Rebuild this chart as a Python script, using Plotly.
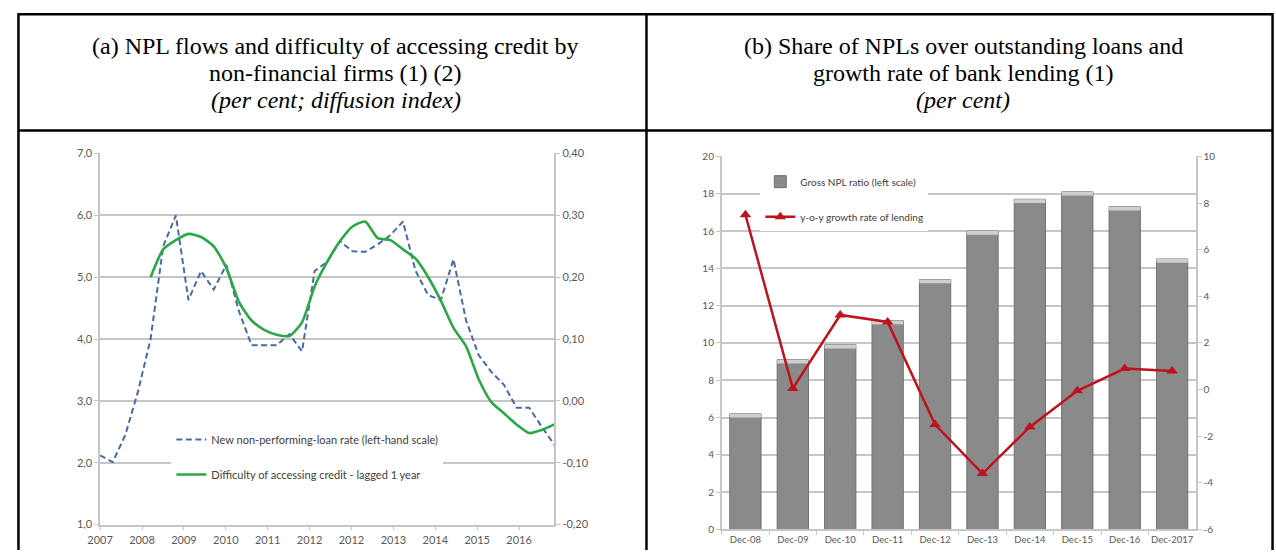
import plotly.graph_objects as go

# ---------------- Data: panel (a) ----------------
A_X_LABELS = ["2007", "2008", "2009", "2010", "2011", "2012", "2012", "2013", "2014", "2015", "2016"]
A_NPL_RATE = [2.12, 2.01, 2.45, 3.15, 4.0, 5.5, 6.0, 4.63, 5.1, 4.8, 5.2, 4.45, 3.9, 3.9, 3.9,
              4.08, 3.8, 5.1, 5.25, 5.58, 5.42, 5.41, 5.53, 5.68, 5.9, 5.1, 4.71, 4.63, 5.29,
              4.3, 3.74, 3.47, 3.26, 2.89, 2.89, 2.58, 2.29]
A_CREDIT_DIFF = [None, None, None, None,
                 0.20, 0.245, 0.26, 0.27, 0.265, 0.25, 0.215, 0.16, 0.13, 0.115, 0.107,
                 0.105, 0.127, 0.185, 0.225, 0.258, 0.282, 0.29, 0.263, 0.26, 0.245, 0.23,
                 0.20, 0.162, 0.118, 0.088, 0.035, -0.002, -0.02, -0.038, -0.052, -0.047, -0.038]
A_LEFT_VALS = [1, 2, 3, 4, 5, 6, 7]
A_LEFT_TEXT = ["1,0", "2,0", "3,0", "4,0", "5,0", "6,0", "7,0"]
A_RIGHT_VALS = [-0.2, -0.1, 0.0, 0.1, 0.2, 0.3, 0.4]
A_RIGHT_TEXT = ["-0,20", "-0,10", "0,00", "0,10", "0,20", "0,30", "0,40"]

# ---------------- Data: panel (b) ----------------
B_CATEGORIES = ["Dec-08", "Dec-09", "Dec-10", "Dec-11", "Dec-12", "Dec-13",
                "Dec-14", "Dec-15", "Dec-16", "Dec-2017"]
B_NPL_RATIO = [6.2, 9.1, 9.9, 11.2, 13.4, 16.0, 17.7, 18.1, 17.3, 14.5]
B_LENDING_GROWTH = [7.5, 0.05, 3.2, 2.9, -1.5, -3.6, -1.6, -0.05, 0.9, 0.8]
B_LEFT_VALS = [0, 2, 4, 6, 8, 10, 12, 14, 16, 18, 20]
B_RIGHT_VALS = [-6, -4, -2, 0, 2, 4, 6, 8, 10]
B_RIGHT_TEXT = ["-6", "-4", "-2", "0", "2", "4", "6", "8", "10"]

W, H = 1276, 556
def px(x):
    return x / W
def py(y):
    return 1 - y / H

GRID = "#c6c6c6"
TICKC = "#595959"
CHART_FONT = "Lato, Open Sans, sans-serif"
TITLE_FONT = "Liberation Serif, Times New Roman, serif"
A_TICK_STEP = 3.32

fig = go.Figure()

# panel (a)
fig.add_trace(go.Scatter(
    x=list(range(len(A_NPL_RATE))), y=A_NPL_RATE, mode="lines",
    name="New non-performing-loan rate (left-hand scale)",
    line=dict(color="#4a6aa6", width=2, dash="6px,3.5px"),
    xaxis="x", yaxis="y", legend="legend", legendgroup="a1"))
fig.add_trace(go.Scatter(
    x=list(range(len(A_CREDIT_DIFF))), y=A_CREDIT_DIFF, mode="lines",
    name="Difficulty of accessing credit - lagged 1 year",
    line=dict(color="#2aa847", width=2.6, shape="spline", smoothing=0.6),
    xaxis="x", yaxis="y2", legend="legend", legendgroup="a2"))

# panel (b)
fig.add_trace(go.Bar(
    x=B_CATEGORIES, y=B_NPL_RATIO, name="Gross NPL ratio (left scale)",
    marker=dict(color="#8a8a8a", line=dict(color="#707070", width=1)),
    width=0.66, xaxis="x2", yaxis="y3", legend="legend2", legendgroup="b1"))
fig.add_trace(go.Bar(
    x=B_CATEGORIES, y=[0.2 for _ in B_NPL_RATIO], base=[v - 0.2 for v in B_NPL_RATIO],
    marker=dict(color="#cfcfcf", line=dict(width=0)), width=0.66,
    showlegend=False, hoverinfo="skip", xaxis="x2", yaxis="y3"))
fig.add_trace(go.Scatter(
    x=B_CATEGORIES, y=B_LENDING_GROWTH, mode="lines+markers",
    name="y-o-y growth rate of lending",
    line=dict(color="#c0121c", width=2.5),
    marker=dict(symbol="triangle-up", size=10, color="#c0121c"),
    xaxis="x2", yaxis="y4", legend="legend2", legendgroup="b2"))

def axis_style(size):
    return dict(showline=True, linecolor=GRID, linewidth=1.5, ticks="outside",
                ticklen=4, tickcolor=GRID, zeroline=False,
                tickfont=dict(family=CHART_FONT, size=size, color=TICKC))

fig.update_layout(
    width=W, height=H, autosize=False,
    margin=dict(l=0, r=0, t=0, b=0),
    paper_bgcolor="white", plot_bgcolor="white",
    barmode="overlay",
    xaxis=dict(domain=[px(88), px(547)], range=[0, len(A_NPL_RATE) - 1], anchor="y",
               tickvals=[i * A_TICK_STEP for i in range(len(A_X_LABELS))], ticktext=A_X_LABELS,
               tickangle=0, showgrid=False, **axis_style(11)),
    yaxis=dict(domain=[py(530), py(150)], range=[1, 7], anchor="x",
               tickvals=A_LEFT_VALS, ticktext=A_LEFT_TEXT,
               showgrid=True, gridcolor=GRID, gridwidth=1.5, **axis_style(11)),
    yaxis2=dict(domain=[py(530), py(150)], range=[-0.2, 0.4], overlaying="y", side="right",
                anchor="x", tickvals=A_RIGHT_VALS, ticktext=A_RIGHT_TEXT,
                showgrid=False, **axis_style(11)),
    xaxis2=dict(domain=[px(716), px(1195)], anchor="y3", type="category",
                tickson="boundaries", showgrid=False, range=[-0.5, len(B_CATEGORIES) - 0.5],
                tickangle=0, **axis_style(9.5)),
    yaxis3=dict(domain=[py(535), py(153)], range=[0, 20], anchor="x2",
                tickvals=B_LEFT_VALS, showgrid=True, gridcolor=GRID, gridwidth=1.5,
                **axis_style(10)),
    yaxis4=dict(domain=[py(535), py(153)], range=[-6, 10], overlaying="y3", side="right",
                anchor="x2", tickvals=B_RIGHT_VALS, ticktext=B_RIGHT_TEXT, showgrid=False,
                **axis_style(10)),
    legend=dict(x=px(160), y=py(428), xanchor="left", yanchor="top", bgcolor="white",
                font=dict(family=CHART_FONT, size=11, color="#404040"),
                tracegroupgap=16, itemwidth=30),
    legend2=dict(x=px(755), y=py(164), xanchor="left", yanchor="top", bgcolor="white",
                 font=dict(family=CHART_FONT, size=10, color="#404040"),
                 tracegroupgap=16, itemwidth=30),
)

# titles
TITLES_A = ["(a) NPL flows and difficulty of accessing credit by",
            "non-financial firms (1) (2)",
            "<i>(per cent; diffusion index)</i>"]
TITLES_B = ["(b) Share of NPLs over outstanding loans and",
            "growth rate of bank lending (1)",
            "<i>(per cent)</i>"]
LINE_Y = [40, 68, 95]
for cx, lines in ((326, TITLES_A), (960, TITLES_B)):
    for ly, txt in zip(LINE_Y, lines):
        fig.add_annotation(x=px(cx), y=py(ly), xref="paper", yref="paper", text=txt,
                           showarrow=False, xanchor="center", yanchor="middle",
                           font=dict(family=TITLE_FONT, size=24, color="black"))

# table borders
BL = dict(color="black", width=2.5)
fig.add_shape(type="line", xref="paper", yref="paper", x0=px(5), x1=px(1273), y0=py(7.5), y1=py(7.5), line=BL)
fig.add_shape(type="line", xref="paper", yref="paper", x0=px(5), x1=px(1273), y0=py(126.5), y1=py(126.5), line=BL)
for xv in (5.5, 640, 1272.5):
    fig.add_shape(type="line", xref="paper", yref="paper", x0=px(xv), x1=px(xv), y0=py(6.5), y1=0, line=BL)

fig.write_html("out.html")
